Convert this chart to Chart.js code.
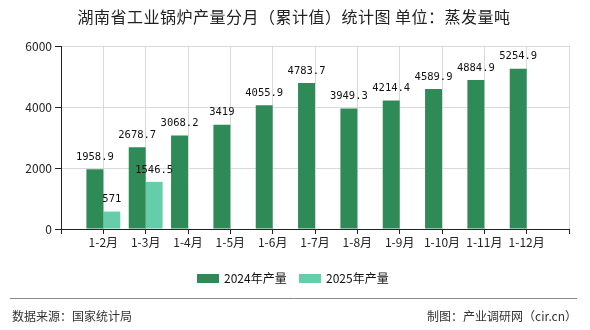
<!DOCTYPE html>
<html>
<head>
<meta charset="utf-8">
<script src="https://cdn.jsdelivr.net/npm/chart.js@4/dist/chart.umd.min.js"></script>
<style>
html,body{margin:0;padding:0;background:#fff;}
#wrap{width:590px;height:330px;position:relative;}
</style>
</head>
<body>
<div id="wrap"><canvas id="c" width="590" height="330"></canvas></div>
<script>
const titleText = '湖南省工业锅炉产量分月（累计值）统计图 单位：蒸发量吨';
const categories = ['1-2月','1-3月','1-4月','1-5月','1-6月','1-7月','1-8月','1-9月','1-10月','1-11月','1-12月'];
const values2024 = [1958.9, 2678.7, 3068.2, 3419, 4055.9, 4783.7, 3949.3, 4214.4, 4589.9, 4884.9, 5254.9];
const values2025 = [571, 1546.5];
const seriesNames = ['2024年产量', '2025年产量'];
const seriesColors = ['#2e8b57', '#66cdaa'];
const yTicks = [0, 2000, 4000, 6000];
const sourceText = '数据来源：国家统计局';
const makerText = '制图：产业调研网（cir.cn）';

const CJK = '"Noto Sans CJK SC", "Noto Sans", sans-serif';

// pad with an empty slot at each end so ticks sit at category centres
const labels = [''].concat(categories, ['']);
function padSeries(arr) {
  const out = [null];
  for (let i = 0; i < categories.length; i++) out.push(i < arr.length ? arr[i] : null);
  out.push(null);
  return out;
}

const decorPlugin = {
  id: 'decor',
  afterDatasetsDraw(chart) {
    const ctx = chart.ctx;
    ctx.save();
    ctx.font = '10.5px "DejaVu Sans Mono", "Liberation Mono", monospace';
    ctx.fillStyle = '#111';
    ctx.textAlign = 'center';
    ctx.textBaseline = 'middle';
    chart.data.datasets.forEach((ds, di) => {
      const meta = chart.getDatasetMeta(di);
      meta.data.forEach((bar, i) => {
        const v = ds.data[i];
        if (v === null || v === undefined) return;
        ctx.fillText(String(v), bar.x, bar.y - 12);
      });
    });
    ctx.restore();
  },
  afterDraw(chart) {
    const ctx = chart.ctx;
    ctx.save();
    ctx.fillStyle = '#222';
    ctx.font = '16px ' + CJK;
    if ('letterSpacing' in ctx) ctx.letterSpacing = '0.5px';
    ctx.textAlign = 'center';
    ctx.textBaseline = 'middle';
    ctx.fillText(titleText, 294, 17);
    if ('letterSpacing' in ctx) ctx.letterSpacing = '0px';
    ctx.font = '12px ' + CJK;
    ctx.textAlign = 'left';
    const legendX = [197, 299];
    chart.data.datasets.forEach((ds, di) => {
      const x = legendX[di];
      ctx.fillStyle = ds.backgroundColor;
      ctx.fillRect(x, 274, 22, 9);
      ctx.fillStyle = '#111';
      ctx.fillText(ds.label, x + 27, 278);
    });
    ctx.strokeStyle = '#888';
    ctx.lineWidth = 1;
    ctx.beginPath();
    ctx.moveTo(10, 298.5);
    ctx.lineTo(577, 298.5);
    ctx.stroke();
    ctx.fillStyle = '#333';
    ctx.font = '12px ' + CJK;
    ctx.textAlign = 'left';
    ctx.fillText(sourceText, 12, 316);
    ctx.textAlign = 'right';
    ctx.fillText(makerText, 577, 316);
    ctx.restore();
  }
};

new Chart(document.getElementById('c'), {
  type: 'bar',
  data: {
    labels: labels,
    datasets: [
      { label: seriesNames[0], data: padSeries(values2024), backgroundColor: seriesColors[0], categoryPercentage: 0.8, barPercentage: 1.0 },
      { label: seriesNames[1], data: padSeries(values2025), backgroundColor: seriesColors[1], categoryPercentage: 0.8, barPercentage: 1.0 }
    ]
  },
  options: {
    responsive: false,
    animation: false,
    devicePixelRatio: 1,
    layout: { padding: { top: 46, left: 0, right: 21, bottom: 0 } },
    plugins: {
      legend: { display: false },
      title: { display: false },
      tooltip: { enabled: false }
    },
    scales: {
      x: {
        offset: false,
        grid: { offset: false, color: '#d9d9d9', tickColor: '#222', tickLength: 5, drawOnChartArea: true },
        border: { color: '#222', width: 1 },
        ticks: { color: '#222', font: { size: 12, family: CJK }, padding: 1, autoSkip: false, maxRotation: 0 },
        afterFit(scale) { scale.height = 101; }
      },
      y: {
        min: 0,
        max: 6000,
        afterBuildTicks(scale) { scale.ticks = yTicks.map(v => ({ value: v })); },
        grid: { color: '#d9d9d9', tickColor: '#222', tickLength: 6 },
        border: { color: '#222', width: 1 },
        ticks: { color: '#222', font: { size: 12, family: CJK }, padding: 3, callback: (v) => String(v) },
        afterFit(scale) { scale.width = 61; }
      }
    }
  },
  plugins: [decorPlugin]
});
</script>
</body>
</html>
